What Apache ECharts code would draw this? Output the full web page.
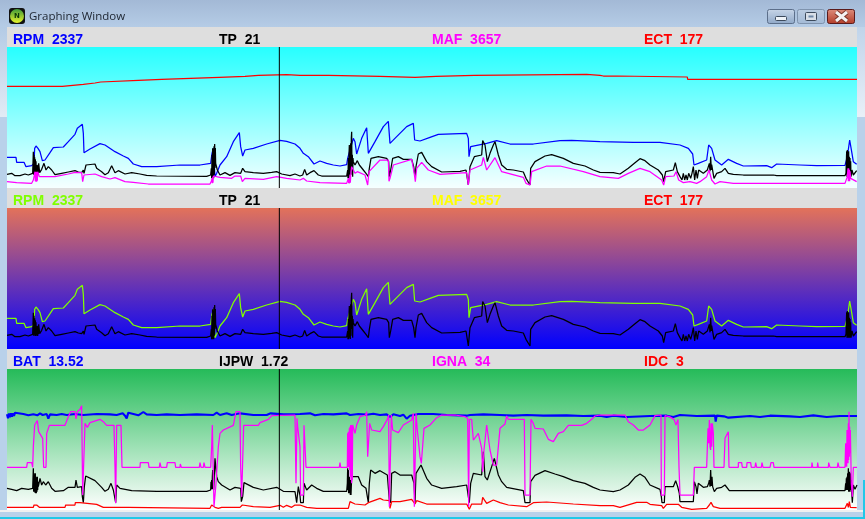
<!DOCTYPE html>
<html><head><meta charset="utf-8">
<script src="https://cdn.jsdelivr.net/npm/echarts@6/dist/echarts.min.js"></script>
<style>html,body{margin:0;padding:0;background:#fff}#c{width:865px;height:519px}</style></head>
<body><div id="c"></div>
<script>
var cursorSample = 838;
var rpm = [[21,92],[48,92],[50,77],[72,77],[78,64],[95,67],[102,74],[104,119],[108,126],[114,119],[120,109],[127,82],[135,84],[150,106],[160,121],[190,123],[205,139],[225,161],[232,179],[247,191],[250,164],[252,106],[270,117],[300,133],[315,129],[345,109],[370,96],[385,89],[400,72],[425,64],[470,64],[540,69],[600,69],[632,74],[636,104],[640,119],[645,34],[650,44],[660,69],[680,94],[700,139],[718,166],[722,124],[728,96],[735,114],[760,119],[800,132],[840,143],[860,140],[885,132],
[900,119],[910,104],[925,94],[942,72],[960,81],[980,74],[1000,69],[1020,66],[1040,70],[1043,89],[1050,114],[1060,149],[1065,139],[1070,102],[1085,149],[1100,181],[1105,104],[1125,139],[1150,184],[1165,200],[1170,134],[1190,154],[1220,184],[1240,194],[1244,144],[1260,141],[1290,152],[1315,161],[1400,164],[1405,149],[1407,94],[1412,124],[1460,134],[1490,142],[1530,132],[1600,132],[1680,142],[1715,143],
[1800,139],[1900,137],[1980,137],[2040,129],[2065,119],[2078,102],[2082,69],[2095,74],[2100,69],[2120,84],[2126,129],[2135,119],[2145,84],[2165,69],[2185,86],[2210,74],[2230,66],[2300,67],[2315,61],[2330,72],[2400,69],[2450,67],[2535,68],[2542,94],[2549,144],[2555,109],[2560,79],[2570,71]];
var tp = [[21,41],[35,44],[45,37],[60,37],[75,42],[85,39],[98,44],[100,109],[101,40],[102,100],[103,44],[104,92],[105,40],[106,86],[107,39],[108,80],[109,42],[110,69],[111,40],[112,66],[113,39],[114,70],[115,44],[116,74],[119,46],[125,56],[132,74],[138,54],[145,64],[155,54],[165,40],[185,44],[205,48],[225,52],[235,48],[245,46],[250,54],[252,44],[258,69],[285,72],[290,59],[305,49],[315,40],[325,46],[335,67],[345,46],[355,52],[375,42],[395,46],[420,42],[440,38],[470,36],[620,35],[632,39],[634,59],[635,29],[636,100],[637,29],[638,119],[639,32],[640,110],[641,29],[642,125],[643,40],[644,132],[645,60],[646,120],[647,74],[652,54],[660,39],[675,46],[690,38],[705,46],[722,44],[728,59],[735,49],[760,46],[790,44],[815,47],[830,49],[845,42],[870,37],[885,42],
[900,36],[908,39],[914,56],[920,39],[930,46],[942,52],[955,39],[965,36],[1040,36],[1043,54],[1044,29],[1045,90],[1046,29],[1047,100],[1048,129],[1049,34],[1050,110],[1051,30],[1052,134],[1053,60],[1054,150],[1055,169],[1056,40],[1057,100],[1058,34],[1059,90],[1060,79],[1065,69],[1072,82],[1078,69],[1090,54],[1098,44],[1105,34],[1108,59],[1113,89],[1135,94],[1160,89],[1166,79],[1168,34],[1172,54],[1178,89],[1195,94],[1210,86],[1235,86],[1241,64],[1245,34],[1248,64],[1255,102],[1265,107],[1280,79],[1295,64],[1325,48],[1380,50],[1398,54],[1403,59],[1405,9],[1410,64],[1415,64],[1423,94],[1445,99],[1448,142],[1455,129],[1462,79],[1470,104],[1480,129],[1485,139],[1495,99],[1505,69],[1520,56],[1540,54],[1570,48],[1578,29],[1582,24],[1590,9],[1592,59],[1605,79],[1635,96],[1655,100],[1690,89],[1720,74],[1755,66],[1780,54],
[1800,47],[1840,46],[1860,42],[1885,59],[1905,76],[1920,88],[1935,82],[1950,69],[1975,54],[1987,39],[1991,19],[1997,49],[2020,54],[2026,76],[2032,49],[2040,34],[2046,24],[2050,44],[2054,24],[2058,39],[2062,24],[2066,44],[2072,29],[2076,44],[2080,64],[2084,24],[2088,54],[2092,29],[2096,54],[2110,44],[2122,54],[2126,60],[2128,74],[2130,50],[2132,94],[2134,54],[2135,70],[2142,29],[2150,44],[2165,49],[2175,59],[2185,44],[2200,41],[2230,39],[2320,39],[2330,37],[2535,37],[2538,44],[2540,110],[2541,34],[2542,114],[2543,34],[2544,100],[2545,34],[2546,110],[2547,34],[2548,94],[2549,34],[2550,90],[2551,36],[2552,80],[2553,34],[2556,54],[2560,39],[2570,52]];
var maf = [[21,19],[50,16],[95,14],[100,24],[103,19],[105,49],[106,20],[107,49],[108,19],[109,49],[110,19],[111,49],[112,22],[113,49],[118,34],[140,34],[165,34],[205,42],[225,47],[245,46],[248,19],[252,39],[285,42],[305,34],[330,27],[345,31],[375,19],[400,17],[445,12],[630,12],[634,20],[636,29],[637,14],[638,32],[639,16],[640,36],[645,39],[660,32],[695,29],[705,36],[722,36],[727,19],[735,29],[790,26],[830,34],[860,29],
[900,24],[910,29],[920,21],[960,16],[1040,14],[1045,29],[1046,14],[1047,30],[1048,14],[1050,40],[1051,16],[1053,50],[1055,64],[1065,44],[1072,49],[1095,39],[1103,9],[1107,49],[1140,84],[1165,84],[1167,20],[1170,29],[1180,69],[1235,86],[1242,49],[1246,19],[1250,59],[1265,77],[1285,54],[1320,41],[1400,46],[1405,9],[1410,54],[1445,69],[1450,92],[1460,54],[1485,91],[1505,49],[1570,32],[1578,14],[1590,9],[1595,49],[1640,66],[1680,66],[1750,49],
[1800,34],[1855,29],[1885,44],[1920,59],[1950,49],[1985,24],[1991,9],[1997,34],[2022,36],[2028,49],[2036,24],[2050,16],[2070,19],[2090,14],[2100,19],[2120,34],[2127,54],[2135,24],[2145,12],[2160,19],[2200,14],[2535,14],[2542,34],[2544,59],[2545,20],[2546,59],[2547,20],[2548,55],[2549,20],[2550,50],[2552,29],[2570,19]];
var ect = [[21,305],[187,305],[188,311],[250,311],[252,315],[285,315],[286,318],[302,318],[303,323],[415,323],[416,326],[485,326],[486,332],[658,332],[659,335],[735,335],[736,338],[775,338],[776,341],[860,340],
[900,338],[985,338],[986,335],[1140,335],[1143,332],[1245,332],[1247,335],[1308,335],[1310,338],[1423,338],[1425,341],[1760,341],[1763,338],[1800,338],
[1810,336],[1852,336],[1853,333],[2062,333],[2063,326],[2571,326]];
var bat = [[21,287],[24,275],[27,290],[30,278],[33,290],[36,280],[39,290],[42,282],[45,292],[50,286],[70,288],[85,284],[100,287],[112,284],[120,290],[128,285],[140,288],[145,274],[150,287],[170,285],[185,288],[200,285],[225,288],[250,285],[290,288],[330,287],[350,285],[368,290],[375,283],[380,275],[385,292],[400,288],[415,284],[430,294],[440,287],[470,285],[500,287],[540,285],[590,287],[640,285],[650,292],[660,285],[680,290],[695,285],[720,290],[760,285],[800,285],[812,290],[850,287],
[900,288],[930,290],[945,284],[970,288],[1000,287],[1040,290],[1050,285],[1075,288],[1100,286],[1120,289],[1140,285],[1160,287],[1170,279],[1180,287],[1200,282],[1210,286],[1220,274],[1230,283],[1255,288],[1300,288],[1340,285],[1400,283],[1405,277],[1410,285],[1450,287],[1500,285],[1540,283],[1580,285],[1630,283],[1700,284],[1750,282],
[1800,283],[1820,279],[1840,283],[1880,279],[1885,284],[1950,282],[2000,283],[2020,279],[2040,285],[2090,282],[2145,283],[2147,265],[2150,283],[2172,281],[2185,277],[2190,283],[2250,282],[2280,279],[2310,283],[2370,281],[2400,279],[2440,284],[2480,279],[2520,282],[2571,282]];
var ijpw = [[21,65],[35,62],[50,58],[65,65],[85,62],[98,65],[100,125],[101,55],[102,110],[103,55],[104,105],[105,52],[106,110],[107,50],[108,100],[109,50],[110,95],[111,55],[112,100],[113,60],[114,85],[115,70],[120,95],[125,75],[130,85],[137,75],[145,85],[155,65],[165,56],[190,58],[205,68],[225,68],[228,90],[232,68],[245,70],[247,40],[250,22],[253,70],[257,102],[285,88],[305,68],[315,56],[325,62],[333,80],[340,60],[347,22],[350,75],[360,65],[395,58],[470,56],[620,56],[632,60],[633,85],[634,62],[635,90],[636,62],[637,100],[638,120],[639,62],[640,110],[641,60],[645,155],[650,100],[655,85],[665,75],[690,60],[705,68],[722,65],[724,25],[728,40],[732,82],[760,68],[790,60],[830,68],[850,56],[885,55],[890,22],[895,70],
[900,43],[902,22],[910,22],[912,80],[920,60],[935,75],[950,65],[970,56],[1040,56],[1042,80],[1043,125],[1044,60],[1045,120],[1046,50],[1047,45],[1048,100],[1049,50],[1050,80],[1051,45],[1052,90],[1053,45],[1055,100],[1075,100],[1085,75],[1098,65],[1102,40],[1105,22],[1108,80],[1112,120],[1125,110],[1140,118],[1162,105],[1168,30],[1172,22],[1175,110],[1185,115],[1200,105],[1235,105],[1242,80],[1245,22],[1248,110],[1263,135],[1280,95],[1295,75],[1325,65],[1370,70],[1400,75],[1405,40],[1408,22],[1412,80],[1420,110],[1445,105],[1450,175],[1455,100],[1462,90],[1475,130],[1483,155],[1495,105],[1505,85],[1520,68],[1570,58],[1575,22],[1590,22],[1592,85],[1605,104],[1635,118],[1665,108],[1690,100],[1720,88],[1755,80],[1780,68],
[1800,60],[1840,55],[1860,60],[1885,75],[1905,98],[1920,108],[1935,98],[1950,75],[1980,62],[1984,40],[1986,22],[1993,22],[1995,70],[2020,70],[2027,88],[2033,70],[2038,50],[2040,25],[2080,25],[2083,85],[2088,70],[2091,48],[2095,80],[2110,68],[2122,70],[2126,80],[2128,90],[2130,70],[2132,120],[2134,72],[2136,100],[2138,70],[2143,55],[2150,65],[2165,68],[2175,75],[2188,58],[2350,58],[2535,58],[2537,80],[2538,60],[2539,95],[2540,60],[2541,100],[2542,60],[2543,110],[2544,60],[2545,125],[2546,55],[2547,105],[2548,55],[2549,115],[2550,55],[2551,110],[2552,115],[2553,60],[2554,90],[2555,55],[2557,22],[2560,75],[2565,62],[2571,75]];
var igna = [[21,128],[80,128],[82,142],[95,142],[98,128],[100,190],[104,255],[108,260],[112,268],[116,235],[122,230],[128,215],[131,128],[138,128],[140,230],[148,254],[195,254],[205,280],[212,295],[225,295],[228,273],[232,295],[240,302],[245,313],[248,45],[252,45],[255,260],[262,248],[270,262],[300,272],[310,265],[320,254],[342,254],[345,128],[347,20],[350,254],[363,254],[366,128],[420,128],[421,142],[445,142],[447,128],[478,128],[480,142],[483,128],[500,128],[502,142],[525,142],[527,128],[540,128],[541,138],[544,128],[598,128],[600,142],[603,128],[610,128],[612,142],[615,128],[632,128],[635,190],[637,255],[640,255],[642,10],[646,10],[648,80],[655,190],[660,230],[665,230],[670,240],[700,254],[708,295],[720,295],[722,130],[725,40],[728,40],[731,254],[775,254],[780,262],[805,272],[815,283],[885,285],[888,80],[891,275],[893,250],
[900,190],[902,45],[910,45],[912,254],[917,254],[918,128],[1018,128],[1020,142],[1022,128],[1042,128],[1043,230],[1044,130],[1045,235],[1046,128],[1047,150],[1048,245],[1049,120],[1050,250],[1051,100],[1052,255],[1053,90],[1054,255],[1055,80],[1056,250],[1057,90],[1058,255],[1060,255],[1065,230],[1070,255],[1080,280],[1085,285],[1097,285],[1100,295],[1103,160],[1107,160],[1109,260],[1115,240],[1140,235],[1150,250],[1162,272],[1166,285],[1168,10],[1172,10],[1174,285],[1178,240],[1195,232],[1210,255],[1235,270],[1240,290],[1243,10],[1246,10],[1248,290],[1252,240],[1260,160],[1264,140],[1272,245],[1290,255],[1308,275],[1325,285],[1365,285],[1395,280],[1403,275],[1406,10],[1408,272],[1415,272],[1420,210],[1435,230],[1445,185],[1448,115],[1452,180],[1460,255],[1465,255],[1470,180],[1480,135],[1490,135],[1500,245],[1515,258],[1520,282],[1525,272],[1573,272],[1575,45],[1590,45],[1593,272],[1600,260],[1605,245],[1630,243],[1645,212],[1660,205],[1675,230],[1690,235],[1705,254],[1745,254],[1760,260],[1775,272],[1785,282],
[1800,285],[1875,285],[1885,265],[1900,255],[1915,240],[1930,240],[1950,255],[1965,283],[1983,285],[1984,45],[1993,45],[1995,283],[2008,280],[2022,272],[2028,255],[2034,272],[2037,128],[2040,45],[2080,45],[2083,128],[2120,128],[2124,245],[2126,200],[2128,270],[2130,190],[2132,180],[2133,260],[2135,190],[2137,260],[2140,230],[2142,128],[2172,128],[2175,215],[2185,235],[2187,128],[2215,128],[2215,142],[2225,142],[2227,128],[2240,128],[2241,142],[2252,142],[2254,128],[2265,128],[2267,142],[2270,128],[2284,128],[2286,142],[2289,128],[2310,128],[2313,142],[2320,142],[2322,128],[2435,128],[2436,142],[2438,128],[2452,128],[2453,142],[2455,128],[2485,128],[2486,142],[2490,128],[2512,128],[2514,142],[2517,128],[2535,128],[2537,200],[2538,130],[2539,200],[2540,130],[2541,240],[2542,140],[2543,240],[2544,140],[2545,260],[2546,150],[2547,295],[2548,160],[2549,250],[2550,170],[2551,240],[2554,80],[2557,40],[2560,128],[2571,128]];
var idc = [[21,8],[100,8],[102,15],[104,10],[106,15],[108,10],[110,15],[115,15],[118,8],[195,8],[197,15],[225,15],[226,22],[232,18],[240,22],[245,17],[290,17],[310,8],[385,8],[388,5],[630,5],[635,15],[645,8],[655,5],[665,8],[720,8],[727,15],[760,10],[810,8],[815,14],[840,14],[850,8],[860,14],[875,8],[885,15],
[900,15],[920,8],[950,5],[1045,5],[1050,25],[1065,18],[1095,15],[1105,22],[1140,35],[1150,30],[1168,28],[1170,5],[1175,25],[1200,25],[1235,32],[1245,18],[1250,28],[1280,18],[1400,18],[1408,2],[1415,18],[1445,18],[1448,38],[1460,20],[1480,30],[1500,22],[1525,15],[1580,10],[1600,22],[1640,24],[1720,18],
[1800,13],[1840,13],[1845,8],[1860,8],[1890,17],[1910,23],[1940,23],[1950,17],[1985,13],[1990,5],[2000,17],[2035,17],[2045,8],[2075,2],[2080,8],[2120,5],[2128,15],[2133,23],[2140,10],[2160,5],[2535,5],[2542,20],[2545,8],[2548,25],[2551,8],[2555,5],[2570,7]];

var labelsTop = ['RPM  2337','TP  21','MAF  3657','ECT  177'];
var labelsBottom = ['BAT  13.52','IJPW  1.72','IGNA  34','IDC  3'];
var titleText = 'Graphing Window';

var labelX = [13,219,432,644];
function grad(stops){return new echarts.graphic.LinearGradient(0,0,0,1,stops.map(function(c,i){return {offset:i/(stops.length-1),color:c};}));}
var panelTops = [47,208,369];
var bgs = [['#26ffff','#f6ffff'],['#e3725a','#0000ff'],['#25bb59','#ffffff']];
var grid = panelTops.map(function(t,i){return {left:7,top:t,width:850,height:141,show:true,borderWidth:0,backgroundColor:grad(bgs[i])};});
var xAxis = panelTops.map(function(t,i){return {type:'value',gridIndex:i,min:21,max:2571,show:false};});
var yAxis = panelTops.map(function(t,i){return {type:'value',gridIndex:i,min:0,max:423,show:false};});
function line(name,data,p,color,w){return {name:name,type:'line',xAxisIndex:p,yAxisIndex:p,data:data,symbol:'none',silent:true,animation:false,clip:true,lineStyle:{color:color,width:w||1.25}};}
var series = [
 line('ECT',ect,0,'#ff0000'),line('RPM',rpm,0,'#0000ff'),line('TP',tp,0,'#000000'),line('MAF',maf,0,'#ff00ff'),
 line('RPM2',rpm,1,'#80ff00'),line('TP2',tp,1,'#000000'),
 line('BAT',bat,2,'#0000ff',2.1),line('IJPW',ijpw,2,'#000000'),line('IDC',idc,2,'#ff0000'),line('IGNA',igna,2,'#ff00ff')
];
[0,1,2].forEach(function(p){
 series.push({type:'line',xAxisIndex:p,yAxisIndex:p,data:[[cursorSample,0],[cursorSample,423]],symbol:'none',silent:true,animation:false,lineStyle:{color:'#000',width:1}});
});
function txt(s,x,y,c){return {type:'text',x:x,y:y,silent:true,z:20,style:{text:s,fill:c,font:'bold 14px "Liberation Sans"',textVerticalAlign:'middle'}};}
var colors = [['#0000ff','#000000','#ff00ff','#ff0000'],['#80ff00','#000000','#ffff00','#ff0000'],['#0000ff','#000000','#ff00ff','#ff0000']];
var bandY = [27,188,349];
var g = [];
function rect(x,y,w,h,fill){return {type:'rect',silent:true,z:-5,shape:{x:x,y:y,width:w,height:h},style:{fill:fill}};}
g.push(rect(0,0,865,519,'#b9d1ea'));
g.push(rect(0,0,865,27,grad(['#a3b9d6','#b5cce6'])));
g.push(rect(0,27,7,90,grad(['#b4cbe5','#e2ebf5'])));
g.push(rect(857,27,8,90,grad(['#c0d4ea','#e8f0f8'])));
g.push(rect(0,510,865,2,'#f0f0f0'));
g.push(rect(0,517,865,2,'#22c8e8'));
g.push(rect(863,480,2,39,'#22c8e8'));
bandY.forEach(function(y){g.push(rect(7,y,850,20,'#dedede'));});
panelTops.forEach(function(t,i){
 var lab = i==2?labelsBottom:labelsTop;
 lab.forEach(function(s,j){g.push(txt(s,labelX[j],t-7,colors[i][j]));});
});
// title bar
g.push({type:'rect',silent:true,z:5,shape:{x:9,y:8,width:16,height:16,r:3},style:{fill:'#111'}});
g.push({type:'circle',silent:true,z:6,shape:{cx:17,cy:16,r:7},style:{fill:grad(['#3f9a3a','#e8f52a'])}});
g.push({type:'text',silent:true,z:7,x:17,y:16,style:{text:'N',fill:'#0a3a0a',font:'bold 7px "DejaVu Sans"',textAlign:'center',textVerticalAlign:'middle'}});
g.push({type:'text',silent:true,z:6,x:29,y:17,style:{text:titleText,fill:'#1c2430',font:'11.5px "Open Sans"',textVerticalAlign:'middle'}});
function btn(x,w,fill,stroke){return {type:'rect',silent:true,z:6,shape:{x:x,y:9.5,width:w,height:14,r:2},style:{fill:fill,stroke:stroke,lineWidth:1}};}
g.push(btn(767.5,27,grad(['#c8d6e8','#8fa8c8']),'#5c6f8a'));
g.push(btn(797.5,27,grad(['#bccde2','#a3bad6']),'#7f93ad'));
g.push(btn(827.5,27,grad(['#dd8d7c','#b33c28']),'#5a1a1a'));
g.push({type:'rect',silent:true,z:7,shape:{x:775.5,y:16.5,width:11,height:4,r:1},style:{fill:'#eef3f8',stroke:'#3c4a5c',lineWidth:1}});
g.push({type:'rect',silent:true,z:7,shape:{x:805.5,y:12.5,width:11,height:8,r:1},style:{fill:'#d8dfe8',stroke:'#3c4a5c',lineWidth:1}});
g.push({type:'rect',silent:true,z:8,shape:{x:808.5,y:15.5,width:5,height:2},style:{fill:'#6f88a8'}});
[[836,12,847,21],[847,12,836,21]].forEach(function(s){
 g.push({type:'line',silent:true,z:7,shape:{x1:s[0],y1:s[1],x2:s[2],y2:s[3]},style:{stroke:'#7a3328',lineWidth:5}});
});
[[836,12,847,21],[847,12,836,21]].forEach(function(s){
 g.push({type:'line',silent:true,z:8,shape:{x1:s[0],y1:s[1],x2:s[2],y2:s[3]},style:{stroke:'#f4f2f2',lineWidth:3}});
});

var chart = echarts.init(document.getElementById('c'),null,{renderer:'canvas'});
chart.setOption({animation:false,backgroundColor:'#b9d1ea',grid:grid,xAxis:xAxis,yAxis:yAxis,series:series,graphic:g,tooltip:{show:false},legend:{show:false}});
</script></body></html>
